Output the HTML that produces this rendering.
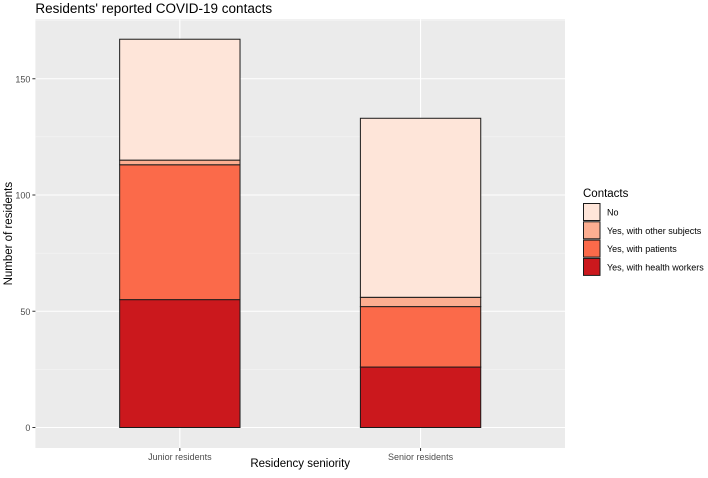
<!DOCTYPE html>
<html><head><meta charset="utf-8"><style>
body{margin:0;background:#fff;font-family:"Liberation Sans",Arial,sans-serif}
</style></head><body>
<svg id="chart" width="708" height="473" xmlns="http://www.w3.org/2000/svg" font-family="Liberation Sans, Arial, sans-serif"></svg>
<script>
const categories = ["Junior residents", "Senior residents"];
const seriesNames = ["Yes, with health workers", "Yes, with patients", "Yes, with other subjects", "No"];
const healthWorkers = [55, 26];
const patients = [58, 26];
const otherSubjects = [2, 4];
const noContact = [52, 77];
const yTicks = [0, 50, 100, 150];
const colors = ["#cb181d", "#fb6a4a", "#fcae91", "#fee5d9"];

const NS = "http://www.w3.org/2000/svg";
const svg = document.getElementById('chart');
const P = {l: 35.4, r: 565, t: 19.3, b: 448};
const y0 = 427.5, ppu = 2.325;
function yScale(v){ return y0 - v*ppu; }
const step = (P.r - P.l)/2.2;
function xScale(i){ return P.l + step*(0.6 + i); }
const barW = step*0.5;
function mk(tag, attrs, parent){
  const e = document.createElementNS(NS, tag);
  for (const k in attrs) e.setAttribute(k, attrs[k]);
  (parent||svg).appendChild(e); return e;
}
const bg = mk('rect', {x:P.l, y:P.t, width:P.r-P.l, height:P.b-P.t, fill:'#ebebeb'});


// minor grid
for (let i=0;i<yTicks.length-1;i++){
  const v=(yTicks[i]+yTicks[i+1])/2;
  mk('line',{x1:P.l,x2:P.r,y1:yScale(v),y2:yScale(v),stroke:'#f7f7f7','stroke-width':0.6});
}
{const v=175; if(yScale(v)>P.t) mk('line',{x1:P.l,x2:P.r,y1:yScale(v),y2:yScale(v),stroke:'#f7f7f7','stroke-width':0.6});}
yTicks.forEach(v=>{
  mk('line',{x1:P.l,x2:P.r,y1:yScale(v),y2:yScale(v),stroke:'#fff','stroke-width':1.1});
  mk('line',{x1:P.l-3,x2:P.l,y1:yScale(v),y2:yScale(v),stroke:'#333','stroke-width':1});
  const t=mk('text',{x:P.l-5,y:yScale(v)+3.5,'text-anchor':'end','font-size':9,fill:'#4d4d4d'});
  t.textContent=v;
  
  
});
categories.forEach((c,i)=>{
  const x=xScale(i);
  mk('line',{x1:x,x2:x,y1:P.t,y2:P.b,stroke:'#fff','stroke-width':1.1});
  mk('line',{x1:x,x2:x,y1:P.b,y2:P.b+3,stroke:'#333','stroke-width':1});
  const t=mk('text',{x:x,y:P.b+12,'text-anchor':'middle','font-size':9,fill:'#4d4d4d'});
  t.textContent=c;
  
  
});
const series=[healthWorkers,patients,otherSubjects,noContact];
categories.forEach((c,i)=>{
  let cum=0;
  series.forEach((s,k)=>{
    const top=cum+s[i];
    const r=mk('rect',{x:xScale(i)-barW/2,y:yScale(top),width:barW,height:yScale(cum)-yScale(top),fill:colors[k],stroke:'#1a1a1a','stroke-width':1});
    
    
    cum=top;
  });
});
const title=mk('text',{x:P.l,y:13,'font-size':13.5,fill:'#000'});
title.textContent="Residents' reported COVID-19 contacts";


const xt=mk('text',{x:(P.l+P.r)/2,y:467,'text-anchor':'middle','font-size':11.5,fill:'#000'});
xt.textContent="Residency seniority";


const yt=mk('text',{x:0,y:0,'text-anchor':'middle','font-size':11.5,fill:'#000',transform:`translate(12,${(P.t+P.b)/2}) rotate(-90)`});
yt.textContent="Number of residents";


const lt=mk('text',{x:583,y:197,'font-size':11.5,fill:'#000'});
lt.textContent="Contacts";


const legOrder=[3,2,1,0];
legOrder.forEach((k,j)=>{
  const y=203+j*18.3;
  const r=mk('rect',{x:583.5,y:y+0.5,width:16.5,height:17,fill:colors[k],stroke:'#1a1a1a','stroke-width':1});
  
  
  const t=mk('text',{x:607,y:y+12.5,'font-size':9,fill:'#000'});
  t.textContent=seriesNames[k];
  
  
});
</script>
</body></html>
